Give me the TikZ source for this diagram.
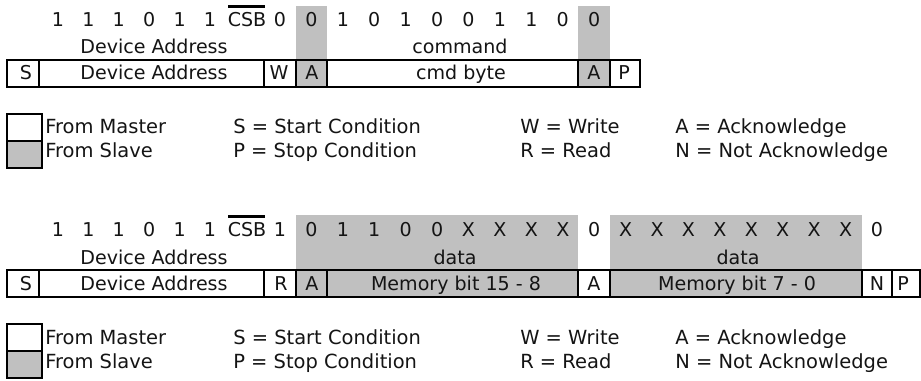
\documentclass[tikz,border=0pt]{standalone}
\usepackage{fontspec}
\setmainfont{DejaVu Sans}
\definecolor{shadegrey}{HTML}{C0C0C0}
\definecolor{inkcol}{HTML}{141414}
\newcommand\cellnode[6]{%
  \node[cellbox, fill=#6, minimum width={(#3-#2)*0.75pt}, minimum height={(#5-#4)*0.75pt}]
    (#1) at ({(#2+#3)/2},{(#4+#5)/2}) {};}
\newcommand\legendblock[2]{%
  \begin{scope}[shift={(0,#2)}]
    \cellnode{#1m}{7}{42}{114}{141}{white}
    \cellnode{#1s}{7}{42}{141}{168}{shadegrey}
    \node[ltxt] (#1t1) at (45,134) {From Master};
    \node[ltxt] (#1t2) at (45,158) {From Slave};
    \node[ltxt] (#1t3) at (233,134) {S = Start Condition};
    \node[ltxt] (#1t4) at (233,158) {P = Stop Condition};
    \node[ltxt] (#1t5) at (520,134) {W = Write};
    \node[ltxt] (#1t6) at (520,158) {R = Read};
    \node[ltxt] (#1t7) at (675,134) {A = Acknowledge};
    \node[ltxt] (#1t8) at (675,158) {N = Not Acknowledge};
  \end{scope}}
\begin{document}
\begin{tikzpicture}[x=0.75pt,y=-0.75pt,
  txt/.style={inner sep=0pt, anchor=base, text=inkcol, font=\fontsize{14.3}{16}\selectfont},
  ltxt/.style={txt, anchor=base west, font=\fontsize{14.6}{16}\selectfont},
  cellbox/.style={draw=black, line width=1.8pt, inner sep=0pt},
]
\useasboundingbox (0,0) rectangle (921,381);

% ---------------- first frame (write command) ----------------
\fill[shadegrey] (296,6) rectangle (327,60);
\fill[shadegrey] (578,6) rectangle (610,60);

\cellnode{wS}{7}{39}{60}{87}{white}
\cellnode{wD}{39}{264}{60}{87}{white}
\cellnode{wW}{264}{296}{60}{87}{white}
\cellnode{wA1}{296}{327}{60}{87}{shadegrey}
\cellnode{wC}{327}{578}{60}{87}{white}
\cellnode{wA2}{578}{610}{60}{87}{shadegrey}
\cellnode{wP}{610}{640}{60}{87}{white}

\foreach \xx/\t [count=\k] in {58/1,88.4/1,118.8/1,149.2/0,179.6/1,210/1}
  \node[txt] (wa-\k) at (\xx,27) {\t};
\node[txt] (wcsb) at (247,27) {CSB};
\draw[line width=1.9pt] (228,6.5) -- (265,6.5);
\foreach \t [count=\k from 0] in {0,0,1,0,1,0,0,1,1,0,0}
  \node[txt] (wb-\k) at ({280+31.42*\k},27) {\t};

\node[txt] (wl1) at (154,54) {Device Address};
\node[txt] (wl2) at (460,54) {command};

\node[txt] (wt1) at (26,80) {S};
\node[txt] (wt2) at (154,80) {Device Address};
\node[txt] (wt3) at (279,80) {W};
\node[txt] (wt4) at (312,80) {A};
\node[txt] (wt5) at (461,80) {cmd byte};
\node[txt] (wt6) at (594,80) {A};
\node[txt] (wt7) at (624,80) {P};

\legendblock{la}{0}

% ---------------- second frame (read data) ----------------
\fill[shadegrey] (296,215) rectangle (578,270);
\fill[shadegrey] (610,215) rectangle (862,270);

\cellnode{rS}{7}{39}{270}{297}{white}
\cellnode{rD}{39}{264}{270}{297}{white}
\cellnode{rR}{264}{296}{270}{297}{white}
\cellnode{rA1}{296}{327}{270}{297}{shadegrey}
\cellnode{rM1}{327}{578}{270}{297}{shadegrey}
\cellnode{rA2}{578}{610}{270}{297}{white}
\cellnode{rM2}{610}{862}{270}{297}{shadegrey}
\cellnode{rN}{862}{892}{270}{297}{white}
\cellnode{rP}{892}{920}{270}{297}{white}

\foreach \xx/\t [count=\k] in {58/1,88.4/1,118.8/1,149.2/0,179.6/1,210/1}
  \node[txt] (ra-\k) at (\xx,237) {\t};
\node[txt] (rcsb) at (247,237) {CSB};
\draw[line width=1.9pt] (228,216.5) -- (265,216.5);
\foreach \t [count=\k from 0] in {1,0,1,1,0,0,X,X,X,X,0,X,X,X,X,X,X,X,X,0}
  \node[txt] (rb-\k) at ({280+31.42*\k},237) {\t};

\node[txt] (rl1) at (154,264) {Device Address};
\node[txt] (rl2) at (455,264) {data};
\node[txt] (rl3) at (738,264) {data};

\node[txt] (rt1) at (26,290) {S};
\node[txt] (rt2) at (154,290) {Device Address};
\node[txt] (rt3) at (281,290) {R};
\node[txt] (rt4) at (312,290) {A};
\node[txt] (rt5) at (456,290) {Memory bit 15 - 8};
\node[txt] (rt6) at (594,290) {A};
\node[txt] (rt7) at (737,290) {Memory bit 7 - 0};
\node[txt] (rt8) at (877,290) {N};
\node[txt] (rt9) at (903,290) {P};

\legendblock{lb}{210}
\end{tikzpicture}
\end{document}
